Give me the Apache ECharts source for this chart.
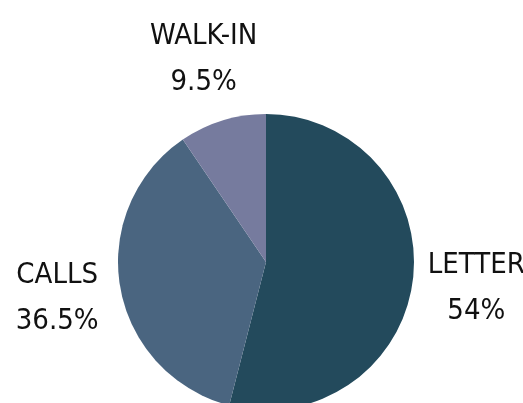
<!DOCTYPE html>
<html>
<head>
<meta charset="utf-8">
<script src="https://cdn.jsdelivr.net/npm/echarts@6/dist/echarts.min.js"></script>
<style>
  html, body { margin: 0; padding: 0; background: #fff; }
  #chart { width: 523px; height: 403px; }
</style>
</head>
<body>
<div id="chart"></div>
<script>
const categories = ['LETTER', 'CALLS', 'WALK-IN']
const shares = [54, 36.5, 9.5]
const colors = ['#234a5c', '#4a6580', '#767b9e']

const chart = echarts.init(document.getElementById('chart'))

const sliceData = categories.map((name, i) => ({
  name,
  value: shares[i],
  itemStyle: { color: colors[i] }
}))

const option = {
  animation: false,
  series: [
    {
      // the pie itself
      type: 'pie',
      center: [266, 262],
      radius: [0, 148],
      startAngle: 90,
      clockwise: true,
      silent: true,
      label: { show: false },
      labelLine: { show: false },
      itemStyle: { borderWidth: 0 },
      data: sliceData
    },
    {
      // invisible ring used only to put each label along its slice's middle angle
      type: 'pie',
      center: [266, 262],
      radius: [196, 222],
      startAngle: 90,
      clockwise: true,
      silent: true,
      itemStyle: { color: 'rgba(0,0,0,0)' },
      label: {
        show: true,
        position: 'inside',
        color: '#111',
        fontFamily: '"DejaVu Sans"',
        fontWeight: 'condensed',
        fontSize: 29,
        lineHeight: 46,
        align: 'center',
        formatter: (p) => `${p.name}\n${p.value}%`
      },
      labelLine: { show: false },
      data: categories.map((name, i) => ({ name, value: shares[i] }))
    }
  ]
}
chart.setOption(option)
</script>
</body>
</html>
